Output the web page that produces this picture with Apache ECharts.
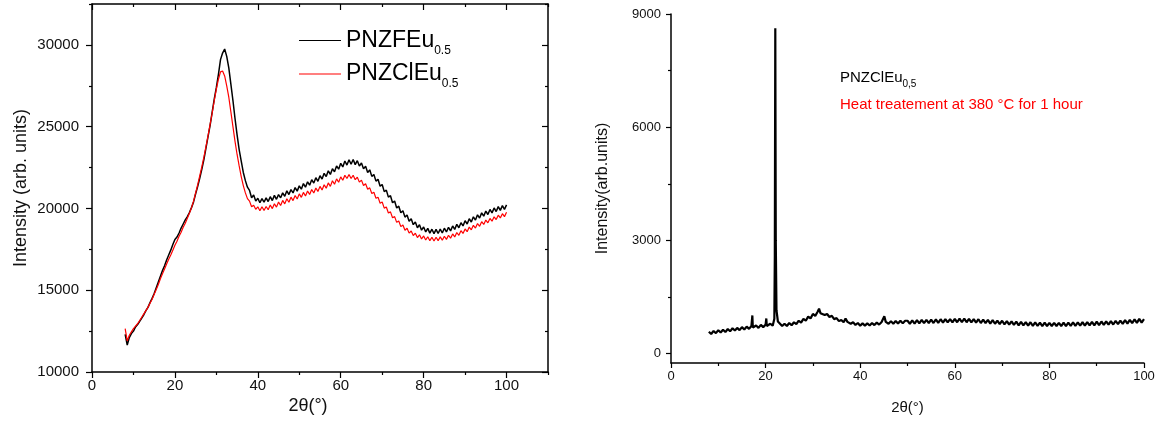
<!DOCTYPE html>
<html><head><meta charset="utf-8">
<script src="https://cdn.jsdelivr.net/npm/echarts@6/dist/echarts.min.js"></script>
<style>html,body{margin:0;padding:0;background:#fff}#c{width:1171px;height:423px}</style>
</head><body><div id="c"></div>
<script>
// ---- Left panel: scan from 8° in 0.5° steps ----
const thetaStartL = 8, thetaStepL = 0.5;
const intensF = [
12300,11650,12100,12350,12500,12750,12900,13100,13300,13500,
13750,13950,14250,14500,14800,15150,15500,15850,16200,16500,
16850,17150,17450,17800,18100,18250,18500,18800,19050,19300,
19500,19750,20050,20400,20900,21350,21850,22400,23000,23700,
24400,25100,25900,26700,27400,28200,29100,29500,29750,29300,
28600,27600,26600,25500,24500,23600,22900,22200,21700,21300,
21100,20650,20820,20450,20620,20350,20600,20380,20650,20420,
20720,20480,20800,20560,20850,20650,20950,20740,21080,20850,
21150,20950,21280,21060,21380,21180,21520,21300,21630,21420,
21760,21550,21880,21660,22000,21800,22150,21950,22300,22080,
22430,22240,22600,22400,22760,22540,22900,22650,22980,22700,
22990,22680,22920,22590,22780,22420,22580,22200,22360,21960,
22080,21670,21780,21360,21460,21030,21120,20690,20780,20350,
20450,20030,20140,19740,19860,19470,19600,19220,19370,19010,
19170,18820,19000,18670,18870,18560,18780,18490,18730,18460,
18720,18470,18740,18500,18790,18560,18850,18630,18930,18720,
19030,18820,19130,18930,19250,19050,19370,19170,19490,19290,
19610,19410,19730,19530,19840,19630,19940,19730,20030,19810,
20110,19880,20170,19940,20220
];
const intensCl = [
12650,11900,12250,12450,12650,12800,12950,13150,13350,13550,
13750,13950,14200,14450,14750,15050,15350,15700,16000,16300,
16600,16900,17150,17450,17750,18000,18300,18550,18850,19100,
19400,19700,20050,20450,20950,21450,22000,22550,23150,23800,
24450,25150,25850,26600,27300,27900,28350,28400,28100,27500,
26800,25900,25000,24100,23300,22600,21950,21400,20950,20600,
20450,20100,20200,19950,20100,19860,20100,19880,20120,19920,
20210,19990,20290,20080,20390,20180,20490,20280,20590,20380,
20690,20480,20790,20580,20890,20680,20980,20760,21070,20850,
21160,20940,21250,21040,21350,21130,21450,21240,21560,21350,
21690,21480,21810,21600,21930,21720,22030,21830,22070,21830,
22030,21760,21910,21610,21730,21400,21510,21170,21260,20910,
20990,20620,20690,20320,20390,20020,20090,19720,19790,19430,
19500,19150,19230,18890,18990,18670,18790,18490,18620,18340,
18490,18220,18390,18130,18320,18070,18270,18030,18240,18010,
18240,18030,18260,18060,18300,18110,18360,18180,18440,18260,
18530,18360,18640,18470,18750,18580,18860,18690,18970,18800,
19080,18910,19190,19020,19290,19120,19390,19220,19490,19320,
19590,19420,19680,19500,19770
];
// ---- Right panel ----
const thetaR = [
8,8.5,9,9.5,10,10.5,11,11.5,12,12.5,13,13.5,14,14.5,15,15.5,16,16.5,17,17.1,17.2,17.3,
18,18.5,19,19.5,20,20.05,20.15,20.25,21,21.5,21.85,21.95,22.05,22.15,22.3,22.6,
23,23.5,24,24.5,25,25.5,26,26.5,27,27.5,28,28.5,29,29.5,30,30.5,31,31.3,31.6,
32,32.5,33,33.5,34,34.5,35,35.5,36,36.5,36.9,37.3,37.6,38,38.5,39,39.5,40,40.5,
41,41.5,42,42.5,43,43.5,44,44.5,44.9,45.1,45.4,46,46.5,47,47.5,48,48.5,49,49.5,
50,50.5,51,51.5,52,52.5,53,53.5,54,54.5,55,55.5,56,56.5,57,57.5,58,58.5,59,59.5,
60,60.5,61,61.5,62,62.5,63,63.5,64,64.5,65,65.5,66,66.5,67,67.5,68,68.5,69,69.5,
70,70.5,71,71.5,72,72.5,73,73.5,74,74.5,75,75.5,76,76.5,77,77.5,78,78.5,79,79.5,
80,80.5,81,81.5,82,82.5,83,83.5,84,84.5,85,85.5,86,86.5,87,87.5,88,88.5,89,89.5,
90,90.5,91,91.5,92,92.5,93,93.5,94,94.5,95,95.5,96,96.5,97,97.5,98,98.5,99,99.5,100
];
const intensR = [
580,520,600,540,620,560,630,570,650,590,670,610,680,620,700,640,715,655,730,680,1010,690,
745,680,760,700,770,720,930,730,790,740,920,2600,8620,3000,1150,850,
800,730,790,730,810,750,830,780,870,820,920,870,980,930,1050,1000,1110,1190,1070,
1100,1020,1050,970,1000,910,940,860,890,830,930,840,870,790,830,760,810,740,800,
740,800,745,810,755,820,770,830,800,990,840,790,860,790,865,795,870,800,870,
870,790,880,795,885,800,890,805,895,810,900,810,905,815,910,820,915,825,915,825,
920,830,925,830,925,830,920,825,915,820,910,810,900,805,895,795,885,790,875,780,
870,775,860,765,855,760,845,750,840,745,835,740,830,735,825,735,820,730,820,730,
815,730,815,730,815,730,820,730,820,735,825,735,825,740,830,740,835,745,840,750,
845,755,850,760,855,765,860,770,865,780,875,785,885,795,895,805,905,815,920,820,910
];
// ---- Tick values / labels ----
const xTicksL = [0,20,40,60,80,100];
const xMinorL = [10,30,50,70,90,110];
const yTicksL = [10000,15000,20000,25000,30000];
const yMinorL = [12500,17500,22500,27500,32500];
const xTicksR = [0,20,40,60,80,100];
const xMinorR = [10,30,50,70,90];
const yTicksR = [0,3000,6000,9000];
const yMinorR = [1500,4500,7500];
const seriesNames = ['PNZFEu0.5','PNZClEu0.5'];

const FF = '"Liberation Sans", Arial, Helvetica, sans-serif';
const ptsF = intensF.map((v,i)=>[thetaStartL + i*thetaStepL, v]);
const ptsCl = intensCl.map((v,i)=>[thetaStartL + i*thetaStepL, v]);
const ptsR = thetaR.map((t,i)=>[t, intensR[i]]);

function axis(o){
  const base = {
    type:'value', splitLine:{show:false},
    axisLine:{show:false, onZero:false, lineStyle:{color:'#000', width:1.5}},
    axisTick:{show:false}, axisLabel:{show:false}, nameMoveOverlap:false
  };
  return Object.assign(base, o);
}
function ticks(vals, len, inside, w){
  return {show:true, customValues:vals, length:len, inside:!!inside, lineStyle:{color:'#000', width:w||1.2}};
}
function labels(vals, size, margin){
  return {show:true, customValues:vals, fontSize:size, margin:margin, color:'#111', fontFamily:FF,
    hideOverlap:false, formatter:function(v){ return String(v); }};
}

const chart = echarts.init(document.getElementById('c'), null, {renderer:'canvas'});
chart.setOption({
  animation:false,
  backgroundColor:'#fff',
  grid:[
    {left:92, top:4, width:456, height:368, outerBoundsMode:'none', containLabel:false},
    {left:671, top:14, width:473, height:349, outerBoundsMode:'none', containLabel:false}
  ],
  xAxis:[
    axis({gridIndex:0, min:0, max:110, position:'bottom',
      axisLine:{show:true, onZero:false, lineStyle:{color:'#000', width:1.5}},
      axisTick:ticks(xTicksL, 6, false), axisLabel:labels(xTicksL, 15, 6),
      name:'2θ(°)', nameLocation:'middle', nameGap:25,
      nameTextStyle:{fontSize:18, color:'#111', fontFamily:FF, padding:[0,24,0,0]}}),
    axis({gridIndex:0, min:0, max:110, position:'bottom', axisTick:ticks(xMinorL, 3, false)}),
    axis({gridIndex:0, min:0, max:110, position:'top',
      axisLine:{show:true, onZero:false, lineStyle:{color:'#000', width:1.5}},
      axisTick:ticks(xTicksL, 6, true)}),
    axis({gridIndex:0, min:0, max:110, position:'top', axisTick:ticks(xMinorL, 3, true)}),
    axis({gridIndex:1, min:0, max:100, position:'bottom',
      axisLine:{show:true, onZero:false, lineStyle:{color:'#000', width:1.5}},
      axisTick:ticks(xTicksR, 5, false), axisLabel:labels(xTicksR, 13, 7),
      name:'2θ(°)', nameLocation:'middle', nameGap:37,
      nameTextStyle:{fontSize:15, color:'#111', fontFamily:FF}}),
    axis({gridIndex:1, min:0, max:100, position:'bottom', axisTick:ticks(xMinorR, 3, false)})
  ],
  yAxis:[
    axis({gridIndex:0, min:10000, max:32500, position:'left',
      axisLine:{show:true, onZero:false, lineStyle:{color:'#000', width:1.5}},
      axisTick:ticks(yTicksL, 6, false), axisLabel:labels(yTicksL, 15, 13),
      name:'Intensity (arb. units)', nameLocation:'middle', nameGap:62,
      nameTextStyle:{fontSize:18, color:'#111', fontFamily:FF}}),
    axis({gridIndex:0, min:10000, max:32500, position:'left', axisTick:ticks(yMinorL, 3, false)}),
    axis({gridIndex:0, min:10000, max:32500, position:'right',
      axisLine:{show:true, onZero:false, lineStyle:{color:'#000', width:1.5}},
      axisTick:ticks(yTicksL, 6, true)}),
    axis({gridIndex:0, min:10000, max:32500, position:'right', axisTick:ticks(yMinorL, 3, true)}),
    axis({gridIndex:1, min:-250, max:9000, position:'left',
      axisLine:{show:true, onZero:false, lineStyle:{color:'#000', width:1.5}},
      axisTick:ticks(yTicksR, 5, false), axisLabel:labels(yTicksR, 13, 10),
      name:'Intensity(arb.units)', nameLocation:'middle', nameGap:60,
      nameTextStyle:{fontSize:16, color:'#111', fontFamily:FF}}),
    axis({gridIndex:1, min:-250, max:9000, position:'left', axisTick:ticks(yMinorR, 3, false)})
  ],
  legend:{
    data:seriesNames.map(function(n){ return {name:n, icon:'path://M0,0H42V1H0Z'}; }),
    orient:'vertical', left:294, top:24, itemWidth:42, itemHeight:1.3, itemGap:6,
    selectedMode:false,
    formatter:function(n){ const k = n.indexOf('Eu')+2; return '{m|'+n.slice(0,k)+'}{s|'+n.slice(k)+'}'; },
    textStyle:{fontFamily:FF, color:'#000', rich:{
      m:{fontSize:23, lineHeight:32, color:'#000', fontFamily:FF},
      s:{fontSize:12, lineHeight:12, verticalAlign:'bottom', color:'#000', fontFamily:FF}
    }}
  },
  graphic:[
    {type:'text', left:840, top:70, silent:true, style:{
      text:'{m|PNZClEu}{s|0,5}', fontFamily:FF,
      rich:{ m:{fontSize:15, lineHeight:24, fill:'#000', fontFamily:FF},
             s:{fontSize:10, lineHeight:10, verticalAlign:'bottom', fill:'#000', fontFamily:FF} } }},
    {type:'text', left:840, top:97, silent:true, style:{
      text:'{r|Heat treatement at 380 °C for 1 hour}', fontFamily:FF,
      rich:{ r:{fontSize:15, lineHeight:24, fill:'#ff0000', fontFamily:FF} } }}
  ],
  series:[
    {type:'line', name:seriesNames[0], xAxisIndex:0, yAxisIndex:0, data:ptsF, symbol:'none', showSymbol:false, silent:true,
      lineStyle:{color:'#000', width:1.5}, itemStyle:{color:'#000'}},
    {type:'line', name:seriesNames[1], xAxisIndex:0, yAxisIndex:0, data:ptsCl, symbol:'none', showSymbol:false, silent:true,
      lineStyle:{color:'#ff0000', width:1.2}, itemStyle:{color:'#ff0000'}},
    {type:'line', name:'PNZClEu0,5 (380 °C)', xAxisIndex:4, yAxisIndex:4, data:ptsR, symbol:'none', showSymbol:false, silent:true,
      lineStyle:{color:'#000', width:2.2}, itemStyle:{color:'#000'}}
  ]
});
</script></body></html>
